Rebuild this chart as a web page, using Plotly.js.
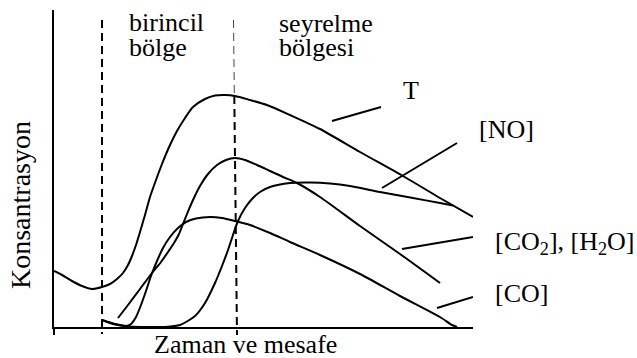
<!DOCTYPE html>
<html>
<head>
<meta charset="utf-8">
<script src="https://cdn.plot.ly/plotly-3.0.1.min.js"></script>
<style>html,body{margin:0;padding:0;background:#fff;}#chart{width:637px;height:358px;}</style>
</head>
<body>
<div id="chart"></div>
<script>
// Schematic values (arbitrary units: position along flame, concentration)
var tX   = [0,8,18,28,38,48,56,63,69,74,78,82,86,91,96,102,108,116,123,131,139,151,161,171,181,196,213,236,266,306,349,386,419];
var tY   = [56,52,46,41,38,40,43,48,54,62,71,82,95,112,130,147,163,182,196,209,220,228,231.5,232,231,227,222,212,198,175,151,129,110];

var noX  = [48,61,76,96,111,126,141,151,161,168,174,179,184,191,198,206,216,236,256,276,296,326,359,386,399];
var noY  = [7,3,0.5,0,0,2,11,24,44,61,77,92,106,119,128,135,140,144,144.5,143.5,141,135,129,124,121.5];

var co2X = [64,74,86,98,107,114,120,125,129,133,139,146,154,163,172,181,191,203,216,229,243,266,306,346,386];
var co2Y = [9,22,38,54,65,75,84,93,103,113,127,141,153,162,167,169,167,162,156,150,144,130,101,73,44];

var coX  = [48,56,64,72,77,82,87,92,97,103,109,116,124,132,142,156,168,181,196,216,236,266,306,346,386,398,403];
var coY  = [7,4,2,1,3,10,22,36,51,66,79,90,99,105,108.5,110,109,106,102,94,85,72,53,31,10,2,0];

var regionLabels = ["birincil", "bölge", "seyrelme", "bölgesi"];
var seriesLabels = ["T", "[NO]", "[CO<sub>2</sub>], [H<sub>2</sub>O]", "[CO]"];
var xTitle = "Zaman ve mesafe";
var yTitle = "Konsantrasyon";

var font = "Liberation Serif";
var lineStyle = {color: "#000", width: 2, shape: "spline", smoothing: 0.7};

function tr(x, y, name) {
  return {x: x, y: y, name: name, type: "scatter", mode: "lines", line: lineStyle, hoverinfo: "skip"};
}
var data = [tr(tX, tY, "T"), tr(noX, noY, "NO"), tr(co2X, co2Y, "CO2"), tr(coX, coY, "CO")];

// pixel helpers for decoration placement
var L = 54, T0 = 10, W = 419, H = 317;
function px(x) { return (x - L) / W; }
function py(y) { return (T0 + H - y) / H; }

function ann(text, left, centerY, size) {
  return {text: text, x: px(left), y: py(centerY), xref: "paper", yref: "paper",
    xanchor: "left", yanchor: "middle", showarrow: false,
    font: {family: font, size: size, color: "#000"}};
}

var annotations = [
  ann(regionLabels[0], 127, 22.5, 26),
  ann(regionLabels[1], 127, 47.5, 26),
  ann(regionLabels[2], 277, 23.5, 26),
  ann(regionLabels[3], 277, 47.5, 26),
  ann(seriesLabels[0], 401, 91, 26),
  ann(seriesLabels[1], 477, 129.5, 26),
  ann(seriesLabels[2], 493, 243, 26),
  ann(seriesLabels[3], 493, 293, 26),
  {text: xTitle, x: px(245), y: py(344), xref: "paper", yref: "paper", xanchor: "center", yanchor: "middle",
   showarrow: false, font: {family: font, size: 26, color: "#000"}},
  {text: yTitle, x: px(21), y: py(205), xref: "paper", yref: "paper", xanchor: "center", yanchor: "middle",
   textangle: -90, showarrow: false, font: {family: font, size: 28, color: "#000"}}
];

function seg(x0, y0, x1, y1) {
  return {type: "line", xref: "x", yref: "y", x0: x0, y0: y0, x1: x1, y1: y1, line: {color: "#000", width: 2}};
}
var shapes = [
  {type: "line", xref: "paper", yref: "paper", x0: px(102), x1: px(102), y0: py(20), y1: py(334),
   line: {color: "#000", width: 2, dash: "8px,5px"}},
  {type: "line", xref: "paper", yref: "paper", x0: px(233.5), x1: px(234.3), y0: py(20), y1: py(93),
   line: {color: "#444", width: 1, dash: "8px,5px"}},
  {type: "line", xref: "paper", yref: "paper", x0: px(234.3), x1: px(237), y0: py(96), y1: py(335),
   line: {color: "#000", width: 2, dash: "8px,5px"}},
  seg(278, 206, 327, 220),
  seg(328, 139, 403, 184),
  seg(348, 78, 419, 90),
  seg(383, 19, 419, 30)
];

var layout = {
  width: 637, height: 358,
  margin: {l: L, r: 637 - L - W, t: T0, b: 358 - T0 - H, pad: 0},
  paper_bgcolor: "#fff", plot_bgcolor: "#fff",
  font: {family: font, color: "#000"},
  showlegend: false,
  xaxis: {range: [0, W], showline: true, linewidth: 2, linecolor: "#000", showgrid: false, zeroline: false,
          ticks: "outside", tickvals: [0], ticklen: 6, tickwidth: 2, tickcolor: "#000", showticklabels: false, fixedrange: true},
  yaxis: {range: [0, H], showline: true, linewidth: 2, linecolor: "#000", showgrid: false, zeroline: false,
          ticks: "", showticklabels: false, fixedrange: true},
  annotations: annotations,
  shapes: shapes
};

Plotly.newPlot("chart", data, layout, {staticPlot: true, displayModeBar: false});
</script>
</body>
</html>
